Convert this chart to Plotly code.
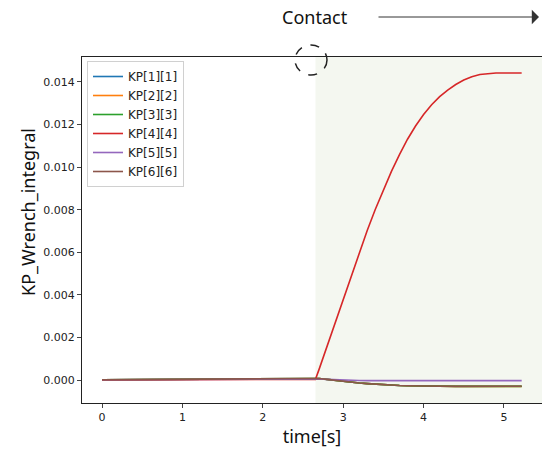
import plotly.graph_objects as go

# ---- data ----
t_pre = [0.0, 0.5, 1.0, 1.5, 2.0, 2.5, 2.655]
t_post = [2.7, 2.8, 2.9, 3.0, 3.1, 3.2, 3.3, 3.4, 3.5, 3.6, 3.7, 3.8, 3.9, 4.0,
          4.1, 4.2, 4.3, 4.4, 4.5, 4.6, 4.7, 4.8, 4.9, 5.0, 5.22]
time = t_pre + t_post

pre_common = [0.00001, 0.00002, 0.00003, 0.00005, 0.00006, 0.00007, 0.00008]

kp1 = pre_common + [0.00007, 0.00003, -0.00002, -0.00006, -0.00010, -0.00014, -0.00017,
                    -0.00020, -0.00022, -0.00024, -0.00026, -0.00027, -0.00028, -0.00029,
                    -0.00029, -0.00029, -0.00029, -0.00029, -0.00029, -0.00029, -0.00029,
                    -0.00029, -0.00029, -0.00029, -0.00029]
kp2 = pre_common + [0.00007, 0.00003, -0.00002, -0.00006, -0.00010, -0.00014, -0.00017,
                    -0.00020, -0.00022, -0.00024, -0.00026, -0.00027, -0.00028, -0.00029,
                    -0.00030, -0.00030, -0.00030, -0.00030, -0.00030, -0.00030, -0.00030,
                    -0.00030, -0.00030, -0.00030, -0.00030]
kp3 = pre_common + [0.00007, 0.00003, -0.00002, -0.00006, -0.00010, -0.00014, -0.00017,
                    -0.00020, -0.00022, -0.00024, -0.00026, -0.00027, -0.00028, -0.00029,
                    -0.00029, -0.00030, -0.00030, -0.00030, -0.00030, -0.00030, -0.00030,
                    -0.00030, -0.00030, -0.00030, -0.00030]
kp4 = [0.0, 0.0, 0.0, 0.0, 0.0, 0.0, 0.00003,
       0.00050, 0.00160, 0.00270, 0.00380, 0.00490, 0.00600, 0.00704, 0.00802,
       0.00894, 0.00980, 0.01059, 0.01131, 0.01193, 0.01247, 0.01293, 0.01331,
       0.01362, 0.01388, 0.01409, 0.01425, 0.01435, 0.01440, 0.01442, 0.01442, 0.01442]
kp5 = [0.00001, 0.00002, 0.00003, 0.00004, 0.00005, 0.00006, 0.00006,
       0.00005, 0.00003, 0.00001, 0.0, -0.00001, -0.00002, -0.00003, -0.00003,
       -0.00003, -0.00003, -0.00003, -0.00003, -0.00003, -0.00003, -0.00003, -0.00003,
       -0.00003, -0.00003, -0.00003, -0.00003, -0.00003, -0.00003, -0.00003, -0.00003,
       -0.00003]
kp6 = pre_common + [0.00007, 0.00003, -0.00002, -0.00006, -0.00010, -0.00014, -0.00017,
                    -0.00020, -0.00022, -0.00024, -0.00026, -0.00027, -0.00028, -0.00029,
                    -0.00030, -0.00030, -0.00030, -0.00030, -0.00030, -0.00030, -0.00030,
                    -0.00029, -0.00029, -0.00029, -0.00029]

series_names = ["KP[1][1]", "KP[2][2]", "KP[3][3]", "KP[4][4]", "KP[5][5]", "KP[6][6]"]
series_values = [kp1, kp2, kp3, kp4, kp5, kp6]
colors = ["#1f77b4", "#ff7f0e", "#2ca02c", "#d62728", "#9467bd", "#8c564b"]

contact_time = 2.655
x_ticks = [0, 1, 2, 3, 4, 5]
y_ticks = [0.000, 0.002, 0.004, 0.006, 0.008, 0.010, 0.012, 0.014]

# ---- figure ----
fig = go.Figure()
for name, vals, col in zip(series_names, series_values, colors):
    fig.add_trace(go.Scatter(x=time, y=vals, mode="lines", name=name,
                             line=dict(color=col, width=1.6)))

W, H = 542, 450
L, R, T, B = 82, 0, 57, 47
pw, ph = W - L - R, H - T - B

def px(x):
    return (x - L) / pw

def py(y):
    return (H - B - y) / ph

fig.add_shape(type="rect", xref="x", yref="paper", x0=contact_time, x1=6,
              y0=0, y1=1, fillcolor="#f4f7f0", line_width=0, layer="below")

fig.add_shape(type="circle", xref="paper", yref="paper",
              x0=px(295), x1=px(327), y0=py(45), y1=py(75),
              line=dict(color="#222", width=1.5, dash="dash"))

fig.add_annotation(xref="paper", yref="paper", x=px(315), y=py(17),
                   xanchor="center", yanchor="middle",
                   text="Contact", showarrow=False,
                   font=dict(family="Noto Sans", size=18, color="#111"))
fig.add_annotation(xref="paper", yref="paper", x=px(539), y=py(17),
                   ax=-162, ay=0, text="", showarrow=True,
                   arrowhead=1, arrowsize=2.4, arrowwidth=1, arrowcolor="#333")

fig.add_annotation(xref="paper", yref="paper", x=px(28), y=py(212),
                   xanchor="center", yanchor="middle",
                   text="KP_Wrench_integral", textangle=-90, showarrow=False,
                   font=dict(family="Noto Sans", size=18, color="#111"))

fig.update_layout(
    width=W, height=H,
    margin=dict(l=L, r=R, t=T, b=B, pad=0),
    plot_bgcolor="white", paper_bgcolor="white",
    font=dict(family="DejaVu Sans", size=11, color="#222"),
    showlegend=True,
    legend=dict(x=px(87), y=py(61), xanchor="left", yanchor="top",
                bgcolor="rgba(255,255,255,0.85)", bordercolor="#d0d0d0",
                borderwidth=1, font=dict(family="DejaVu Sans", size=12, color="#222"),
                itemwidth=30, tracegroupgap=0),
    xaxis=dict(range=[-0.249, 5.473], tickvals=x_ticks, ticks="outside", ticklen=4,
               showgrid=False, zeroline=False, showline=True, linecolor="#222",
               linewidth=1, mirror=True,
               title=dict(text="time[s]", font=dict(family="Noto Sans", size=18, color="#111"),
                          standoff=6)),
    yaxis=dict(range=[-0.00108, 0.015174], tickvals=y_ticks, tickformat=".3f",
               ticks="outside", ticklen=4, showgrid=False, zeroline=False,
               showline=True, linecolor="#222", linewidth=1, mirror=False),
)

fig.write_html("out.html")
